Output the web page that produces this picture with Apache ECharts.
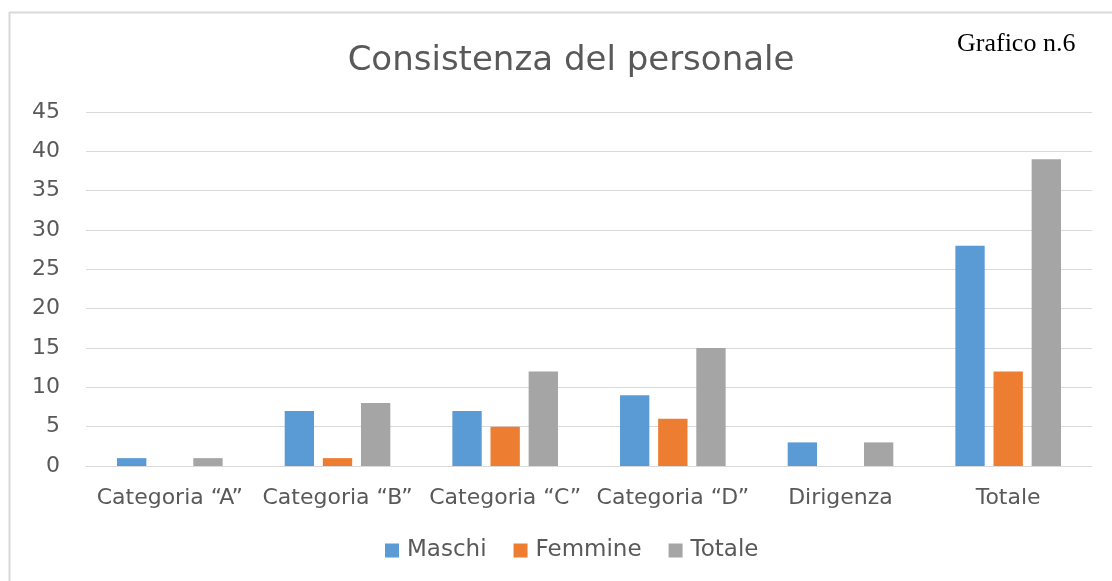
<!DOCTYPE html>
<html>
<head>
<meta charset="utf-8">
<script src="https://cdn.jsdelivr.net/npm/echarts@6/dist/echarts.min.js"></script>
<style>
html,body{margin:0;padding:0;background:#fff;}
#chart{width:1112px;height:581px;}
</style>
</head>
<body>
<div id="chart"></div>
<script>
const categories = ['Categoria “A”', 'Categoria “B”', 'Categoria “C”', 'Categoria “D”', 'Dirigenza', 'Totale'];
const maschi = [1, 7, 7, 9, 3, 28];
const femmine = [0, 1, 5, 6, 0, 12];
const totale = [1, 8, 12, 15, 3, 39];
const seriesNames = ['Maschi', 'Femmine', 'Totale'];
const colors = ['#5b9bd5', '#ed7d31', '#a5a5a5'];

const chart = echarts.init(document.getElementById('chart'));
const fontFam = '"DejaVu Sans", sans-serif';
chart.setOption({
  animation: false,
  color: colors,
  title: {
    text: 'Consistenza del personale',
    left: 566, top: 39, textAlign: 'center',
    textStyle: {fontFamily: fontFam, fontWeight: 'normal', fontSize: 34, color: '#595959'}
  },
  graphic: [
    {type: 'line', shape: {x1: 9, y1: 12.5, x2: 1112, y2: 12.5}, style: {stroke: '#d9d9d9', lineWidth: 2}},
    {type: 'line', shape: {x1: 9.5, y1: 12, x2: 9.5, y2: 581}, style: {stroke: '#d9d9d9', lineWidth: 2}},
    {type: 'text', left: 957, top: 31, style: {text: 'Grafico n.6', font: '26px "Liberation Serif", serif', fill: '#000'}}
  ],
  legend: {
    data: seriesNames,
    top: 539,
    left: 385,
    padding: 0,
    itemWidth: 14, itemHeight: 14, itemGap: 27,
    icon: 'rect',
    textStyle: {fontFamily: fontFam, fontSize: 23, color: '#595959', padding: [0, 0, 0, 3]}
  },
  grid: {left: 86, right: 20, top: 112, bottom: 115},
  xAxis: {
    type: 'category',
    data: categories,
    axisLine: {lineStyle: {color: '#d9d9d9'}},
    axisTick: {show: false},
    axisLabel: {fontFamily: fontFam, fontSize: 22, color: '#595959', margin: 21, interval: 0}
  },
  yAxis: {
    type: 'value',
    min: 0, max: 45, interval: 5,
    axisLine: {show: false},
    axisTick: {show: false},
    splitLine: {lineStyle: {color: '#d9d9d9'}},
    axisLabel: {fontFamily: fontFam, fontSize: 22, color: '#595959', margin: 26}
  },
  series: [
    {name: seriesNames[0], type: 'bar', data: maschi, barGap: '30%', barCategoryGap: '37%'},
    {name: seriesNames[1], type: 'bar', data: femmine, barGap: '30%', barCategoryGap: '37%'},
    {name: seriesNames[2], type: 'bar', data: totale, barGap: '30%', barCategoryGap: '37%'}
  ]
});
</script>
</body>
</html>
